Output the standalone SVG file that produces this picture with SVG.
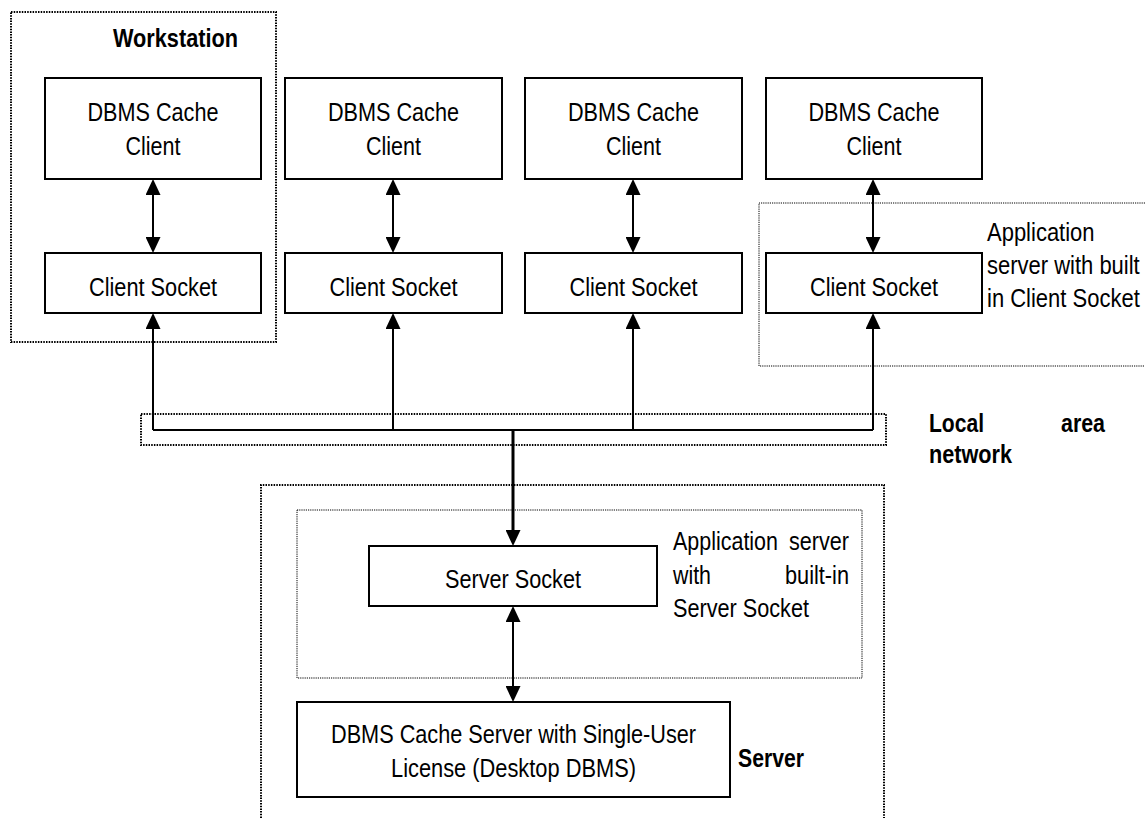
<svg xmlns="http://www.w3.org/2000/svg" width="1145" height="818" viewBox="0 0 1145 818">
<style>
.box{fill:#fff;stroke:#000;stroke-width:2}
.dot{fill:none;stroke:#000;stroke-width:2;stroke-dasharray:1.5 1.2}
.dotthin{fill:none;stroke:#000;stroke-width:1;stroke-dasharray:1.2 1}
.t{font-family:"Liberation Sans",Arial,sans-serif;font-size:25px;fill:#000}
.b{font-weight:bold}
.ln{stroke:#000;stroke-width:2;fill:none}
</style>
<defs>
<marker id="ah" viewBox="0 0 16 15" refX="12" refY="7.5" markerWidth="16" markerHeight="15" markerUnits="userSpaceOnUse" orient="auto-start-reverse">
<path d="M0,0 L16,7.5 L0,15 Z" fill="#000"/>
</marker>
</defs>
<rect fill="#fff" x="0" y="0" width="1145" height="818"/>

<g id="groups">
<rect id="workstation" class="dot" x="11" y="12" width="265" height="330"/>
<path id="appserver-client" class="dotthin" d="M1145,203 H759 V366 H1145"/>
<rect id="lan" class="dot" x="141" y="414" width="745" height="31"/>
<path id="server" class="dot" d="M261,818 V485 H884 V818"/>
<rect id="appserver-server" class="dotthin" x="297" y="510" width="565" height="168"/>
</g>

<g id="labels">
<text class="t b" x="113" y="47" textLength="125" lengthAdjust="spacingAndGlyphs">Workstation</text>
<g transform="translate(987,0) scale(0.88,1)">
<text class="t" x="0" y="241">Application</text>
<text class="t" x="0" y="274">server with built</text>
<text class="t" x="0" y="307">in Client Socket</text>
</g>
<text class="t b" x="929" y="432" textLength="55" lengthAdjust="spacingAndGlyphs">Local</text>
<text class="t b" x="1061" y="432" textLength="44" lengthAdjust="spacingAndGlyphs">area</text>
<text class="t b" x="929" y="463" textLength="83" lengthAdjust="spacingAndGlyphs">network</text>
<text class="t" x="673" y="550" textLength="105" lengthAdjust="spacingAndGlyphs">Application</text>
<text class="t" x="789" y="550" textLength="60" lengthAdjust="spacingAndGlyphs">server</text>
<text class="t" x="673" y="584" textLength="38" lengthAdjust="spacingAndGlyphs">with</text>
<text class="t" x="785" y="584" textLength="64" lengthAdjust="spacingAndGlyphs">built-in</text>
<text class="t" x="673" y="617" textLength="136" lengthAdjust="spacingAndGlyphs">Server Socket</text>
<text class="t b" x="738" y="767" textLength="66" lengthAdjust="spacingAndGlyphs">Server</text>
</g>

<g id="connectors">
<line class="ln" x1="153" y1="183" x2="153" y2="249" marker-start="url(#ah)" marker-end="url(#ah)"/>
<line class="ln" x1="393" y1="183" x2="393" y2="249" marker-start="url(#ah)" marker-end="url(#ah)"/>
<line class="ln" x1="633" y1="183" x2="633" y2="249" marker-start="url(#ah)" marker-end="url(#ah)"/>
<line class="ln" x1="873" y1="183" x2="873" y2="249" marker-start="url(#ah)" marker-end="url(#ah)"/>
<path class="ln" d="M153,430 H873"/>
<line class="ln" x1="153" y1="430" x2="153" y2="317" marker-end="url(#ah)"/>
<line class="ln" x1="393" y1="430" x2="393" y2="317" marker-end="url(#ah)"/>
<line class="ln" x1="633" y1="430" x2="633" y2="317" marker-end="url(#ah)"/>
<line class="ln" x1="873" y1="430" x2="873" y2="317" marker-end="url(#ah)"/>
<line class="ln" style="stroke-width:3" x1="513" y1="429" x2="513" y2="542" marker-end="url(#ah)"/>
<line class="ln" x1="513" y1="610" x2="513" y2="698" marker-start="url(#ah)" marker-end="url(#ah)"/>
</g>

<g id="client1">
<rect class="box" x="45" y="78" width="216" height="101"/>
<text class="t" x="87.5" y="121" textLength="131" lengthAdjust="spacingAndGlyphs">DBMS Cache</text>
<text class="t" x="125.5" y="155" textLength="55" lengthAdjust="spacingAndGlyphs">Client</text>
</g>
<g id="socket1">
<rect class="box" x="45" y="253" width="216" height="60"/>
<text class="t" x="89" y="296" textLength="128" lengthAdjust="spacingAndGlyphs">Client Socket</text>
</g>
<g id="client2">
<rect class="box" x="285" y="78" width="217" height="101"/>
<text class="t" x="328" y="121" textLength="131" lengthAdjust="spacingAndGlyphs">DBMS Cache</text>
<text class="t" x="366" y="155" textLength="55" lengthAdjust="spacingAndGlyphs">Client</text>
</g>
<g id="socket2">
<rect class="box" x="285" y="253" width="217" height="60"/>
<text class="t" x="329.5" y="296" textLength="128" lengthAdjust="spacingAndGlyphs">Client Socket</text>
</g>
<g id="client3">
<rect class="box" x="525" y="78" width="217" height="101"/>
<text class="t" x="568" y="121" textLength="131" lengthAdjust="spacingAndGlyphs">DBMS Cache</text>
<text class="t" x="606" y="155" textLength="55" lengthAdjust="spacingAndGlyphs">Client</text>
</g>
<g id="socket3">
<rect class="box" x="525" y="253" width="217" height="60"/>
<text class="t" x="569.5" y="296" textLength="128" lengthAdjust="spacingAndGlyphs">Client Socket</text>
</g>
<g id="client4">
<rect class="box" x="766" y="78" width="216" height="101"/>
<text class="t" x="808.5" y="121" textLength="131" lengthAdjust="spacingAndGlyphs">DBMS Cache</text>
<text class="t" x="846.5" y="155" textLength="55" lengthAdjust="spacingAndGlyphs">Client</text>
</g>
<g id="socket4">
<rect class="box" x="766" y="253" width="216" height="60"/>
<text class="t" x="810" y="296" textLength="128" lengthAdjust="spacingAndGlyphs">Client Socket</text>
</g>
<g id="serversocket">
<rect class="box" x="369" y="546" width="288" height="60"/>
<text class="t" x="445" y="588" textLength="136" lengthAdjust="spacingAndGlyphs">Server Socket</text>
</g>
<g id="cacheserver">
<rect class="box" x="297" y="702" width="433" height="95"/>
<text class="t" x="331" y="743" textLength="365" lengthAdjust="spacingAndGlyphs">DBMS Cache Server with Single-User</text>
<text class="t" x="391" y="777" textLength="245" lengthAdjust="spacingAndGlyphs">License (Desktop DBMS)</text>
</g>
</svg>
